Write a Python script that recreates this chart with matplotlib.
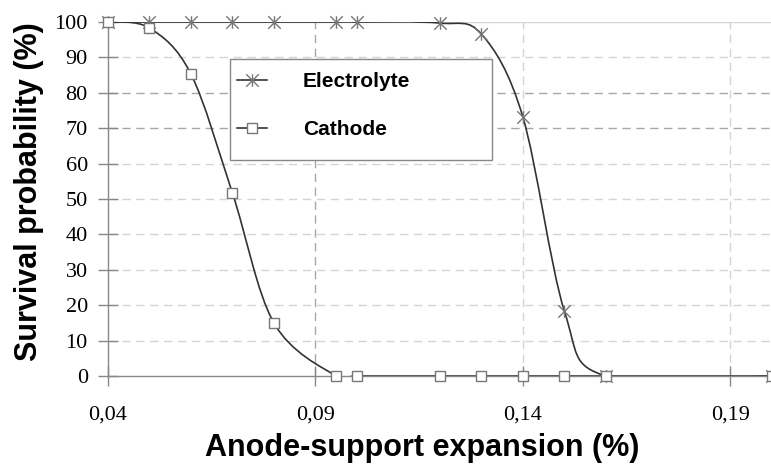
"""Survival probability vs anode-support expansion."""

import numpy as np
import matplotlib
matplotlib.use("Agg")
import matplotlib.pyplot as plt
from matplotlib.path import Path
from matplotlib.patches import PathPatch, Rectangle
from matplotlib.lines import Line2D

# data
expansion = [0.04, 0.05, 0.06, 0.07, 0.08, 0.095, 0.10, 0.12, 0.13, 0.14, 0.15, 0.16, 0.20]
electrolyte = [100, 100, 100, 100, 100, 100, 100, 99.7, 96.6, 73.2, 18.4, 0, 0]
cathode = [100, 98.3, 85.3, 51.7, 15.0, 0, 0, 0, 0, 0, 0, 0, 0]
x_ticks = [0.04, 0.09, 0.14, 0.19]
x_tick_labels = ["0,04", "0,09", "0,14", "0,19"]
y_ticks = list(range(0, 101, 10))

LINE = "#333333"
MARK = "#777777"
BOLD = "Liberation Sans"
SERIF = ["Liberation Serif", "DejaVu Serif"]

# Excel-like star marker: an X with a vertical bar through it
STAR = Path([(-1, -1), (1, 1), (-1, 1), (1, -1), (0, -1), (0, 1)],
            [Path.MOVETO, Path.LINETO] * 3)


def smooth_path(xs, ys):
    """Excel-style smoothed line: cubic Bezier through every point."""
    pts = np.column_stack([xs, ys]).astype(float)
    n = len(pts)
    verts = [pts[0]]
    codes = [Path.MOVETO]
    for i in range(n - 1):
        p0 = pts[i - 1] if i > 0 else pts[i]
        p1, p2 = pts[i], pts[i + 1]
        p3 = pts[i + 2] if i + 2 < n else pts[i + 1]
        verts += [p1 + (p2 - p0) / 6, p2 - (p3 - p1) / 6, p2]
        codes += [Path.CURVE4] * 3
    return Path(verts, codes)


fig = plt.figure(figsize=(7.71, 4.65), dpi=100)
ax = fig.add_axes([0.140, 0.1914, 0.861, 0.7613])

# grid
for y in y_ticks[1:]:
    col = "#a8a8a8" if y in (70, 80) else "#d4d4d4"
    ls = "-" if y == 100 else (0, (6, 4))
    ax.axhline(y, color=col, lw=1.0, ls=ls, zorder=0)
for x in x_ticks[1:]:
    col = "#a8a8a8" if x == 0.09 else "#d4d4d4"
    ax.axvline(x, color=col, lw=1.0, ls=(0, (6, 4)), zorder=0)

for ys, marker, ms in [(electrolyte, STAR, 9), (cathode, "s", 7)]:
    ax.add_patch(PathPatch(smooth_path(expansion, ys), fill=False,
                           edgecolor=LINE, lw=1.2, zorder=2))
    ax.plot(expansion, ys, ls="none", marker=marker, ms=ms, mfc="white",
            mec=MARK, mew=1.0, zorder=3, clip_on=False)

ax.set_xlim(0.04, 0.20)
ax.set_ylim(0, 100)
ax.set_xticks(x_ticks)
ax.set_xticklabels(x_tick_labels, family=SERIF)
ax.set_yticks(y_ticks)
ax.set_yticklabels([str(v) for v in y_ticks], family=SERIF)
ax.tick_params(direction="inout", length=15, width=1.0, color="#888888",
               labelsize=16)
ax.tick_params(axis="x", pad=14)
ax.tick_params(axis="y", pad=7)

for side in ("top", "right"):
    ax.spines[side].set_visible(False)
for side in ("left", "bottom"):
    ax.spines[side].set_color("#888888")
    ax.spines[side].set_linewidth(1.0)

ax.set_ylabel("Survival probability (%)", family=BOLD, weight="bold", fontsize=22)
ax.yaxis.set_label_coords(-0.096, 0.52)
ax.set_xlabel("Anode-support expansion (%)", family=BOLD, weight="bold", fontsize=22)
ax.xaxis.set_label_coords(0.473, -0.16)

# legend box drawn on its own, entries placed inside it
ax.add_patch(Rectangle((0.184, 0.610), 0.394, 0.285, transform=ax.transAxes,
                       facecolor="white", edgecolor="#888888", lw=1.0, zorder=4))
handles = [
    Line2D([], [], color=LINE, lw=1.2, marker=STAR, ms=9, mfc="white", mec=MARK),
    Line2D([], [], color=LINE, lw=1.2, marker="s", ms=7, mfc="white", mec=MARK),
]
leg = ax.legend(handles, ["Electrolyte", "Cathode"], loc="upper left",
                bbox_to_anchor=(0.1943, 0.858),
                prop={"family": BOLD, "weight": "bold", "size": 15},
                frameon=False, handlelength=1.44, handletextpad=1.73,
                labelspacing=1.4, borderpad=0, borderaxespad=0)
leg.set_zorder(5)

fig.savefig("out.png", dpi=100)
